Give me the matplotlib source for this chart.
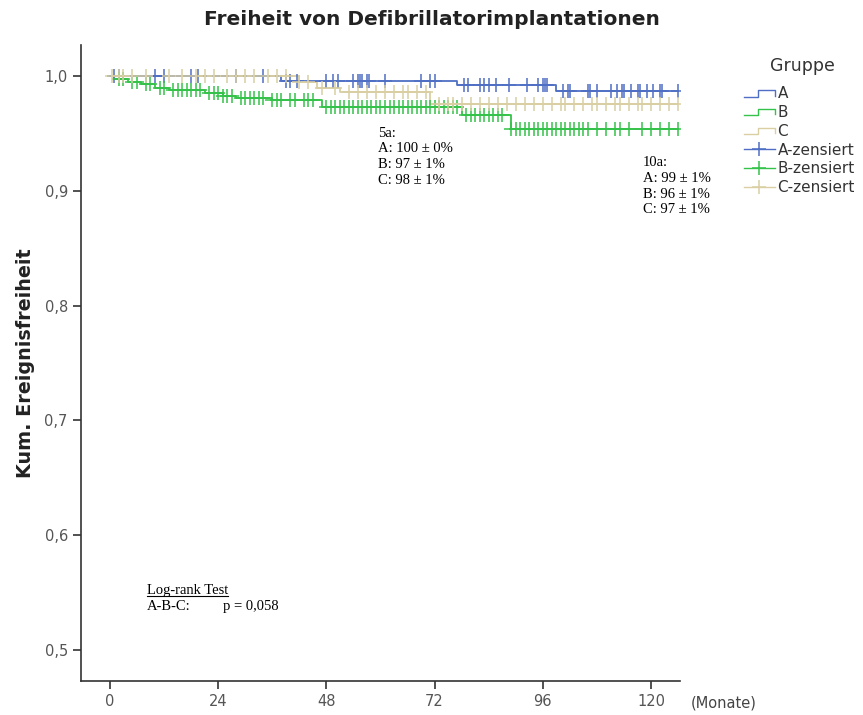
import numpy as np
import matplotlib
matplotlib.use('Agg')
import matplotlib.pyplot as plt
from matplotlib.lines import Line2D
from matplotlib.legend_handler import HandlerBase

# Kaplan-Meier steps (months, survival)
groups = ['A', 'B', 'C']
a_times = [0, 38, 77, 99]
a_surv = [1.0, 0.996, 0.992, 0.987]
b_times = [0, 1, 4, 7, 10, 13, 21, 25, 28, 36, 47, 78, 89]
b_surv = [1.0, 0.997, 0.995, 0.993, 0.990, 0.988, 0.985, 0.983, 0.981, 0.979, 0.973, 0.966, 0.954]
c_times = [0, 42, 46, 51, 71]
c_surv = [1.0, 0.995, 0.990, 0.986, 0.976]
end_time = 126

# censored observations (months)
a_cens = [1, 2, 10, 12, 18, 19.5, 28, 34, 39, 40, 41.5, 48, 49.5, 50.5, 54, 55, 55.5, 56, 57, 57.5,
          61, 69, 71, 72, 78.5, 79.5, 82, 83, 84, 85.5, 88.5, 92.5, 95, 96, 96.5, 97, 100.5, 101.5,
          102, 106, 106.5, 108, 111, 112.5, 113.5, 114, 115.5, 117, 117.5, 119, 120.5, 122, 122.5, 126]
b_cens = [2, 3, 5, 6, 8, 9, 11, 12, 14, 15, 16, 17, 18, 19, 20, 22, 23, 24, 25, 26, 27, 29, 30, 31,
          32, 33, 34, 36, 37, 38, 40, 41, 43, 44, 45, 48, 49, 50, 51, 52, 53, 54, 55, 56, 57, 58, 59,
          60, 61, 62, 63, 64, 65, 66, 67, 68, 69, 70, 71, 72, 73, 74, 75, 76, 77, 79, 80, 81, 82, 83,
          84, 85, 86, 87, 89, 90, 91, 92, 93, 94, 95, 96, 97, 98, 99, 100, 101, 102, 103, 104, 105,
          106, 108, 110, 112, 113, 115, 118, 120, 122, 124, 126]
c_cens = [0.5, 2, 3, 5, 8, 13, 16, 19, 21, 23, 26, 28, 30, 32, 35, 37, 39, 42, 44, 47, 50, 53, 55,
          57, 59, 61, 63, 65, 66, 68, 70, 73, 75, 76, 78, 80, 82, 84, 86, 88, 90, 92, 94, 96, 98,
          100, 101, 103, 105, 107, 108, 110, 112, 113, 115, 117, 118, 120, 122, 124, 126]

x_ticks = [0, 24, 48, 72, 96, 120]
y_ticks = [0.5, 0.6, 0.7, 0.8, 0.9, 1.0]

colors = {'A': '#4f6fc4', 'B': '#35c24a', 'C': '#d9cfa3'}


def surv_at(times, surv, t):
    idx = np.searchsorted(times, t, side='right') - 1
    return np.array(surv)[idx]


class StepHandler(HandlerBase):
    def create_artists(self, legend, orig_handle, xdescent, ydescent, width, height, fontsize, trans):
        xs = np.array([0, 0.45, 0.45, 1.0, 1.0]) * width - xdescent
        ys = np.array([0.15, 0.15, 0.75, 0.75, 0.25]) * height - ydescent
        ln = Line2D(xs, ys, color=orig_handle.get_color(), lw=1.0)
        ln.set_transform(trans)
        return [ln]


fig = plt.figure(figsize=(8.63, 7.15), dpi=100)
ax = fig.add_axes([0.0939, 0.0476, 0.694, 0.8894])

data = {'A': (a_times, a_surv, a_cens), 'B': (b_times, b_surv, b_cens), 'C': (c_times, c_surv, c_cens)}
step_handles = []
cens_handles = []
for g in ['C', 'A', 'B']:
    t, s, c = data[g]
    tt = list(t) + [end_time]
    ss = list(s) + [s[-1]]
    ax.step(tt, ss, where='post', color=colors[g], lw=1.3)
for g in groups:
    t, s, c = data[g]
    ax.plot(c, surv_at(t, s, c), ls='none', marker='+', ms=10, mew=1.1, color=colors[g])
for g in groups:
    step_handles.append(Line2D([], [], color=colors[g]))
    cens_handles.append(Line2D([], [], color=colors[g], marker='+', ms=10, mew=1.1, lw=1.0))

ax.set_xlim(-6.4, 126.4)
ax.set_ylim(0.473, 1.027)
ax.set_xticks(x_ticks)
ax.set_yticks(y_ticks)
ax.set_yticklabels([f'{v:.1f}'.replace('.', ',') for v in y_ticks])
for side in ['top', 'right']:
    ax.spines[side].set_visible(False)
for side in ['left', 'bottom']:
    ax.spines[side].set_color('#333333')
    ax.spines[side].set_linewidth(1.2)
ax.tick_params(colors='#333333', labelcolor='#555555', labelsize=10.5, length=6, width=1.2)

fig.text(0.5, 0.973, 'Freiheit von Defibrillatorimplantationen', ha='center', va='center',
         fontsize=14.5, fontweight='bold', color='#222222')
ax.set_ylabel('Kum. Ereignisfreiheit', fontsize=13.8, fontweight='bold', color='#222222', labelpad=7)
fig.text(0.80, 0.017, '(Monate)', ha='left', va='center', fontsize=10.5, color='#444444')

serif = 'Liberation Serif'
ax.text(59.4, 0.956, '5a:\nA: 100 ± 0%\nB: 97 ± 1%\nC: 98 ± 1%', ha='left', va='top',
        family=serif, fontsize=10.5, linespacing=1.27)
ax.text(118.2, 0.930, '10a:\nA: 99 ± 1%\nB: 96 ± 1%\nC: 97 ± 1%', ha='left', va='top',
        family=serif, fontsize=10.5, linespacing=1.27, clip_on=False)
lr = ax.text(8.2, 0.5575, 'Log-rank Test', ha='left', va='top', family=serif, fontsize=10.5)
ax.text(8.2, 0.5435, 'A-B-C:', ha='left', va='top', family=serif, fontsize=10.5)
ax.text(25.0, 0.5435, 'p = 0,058', ha='left', va='top', family=serif, fontsize=10.5)

fig.text(802 / 863, 1 - 66 / 715, 'Gruppe', ha='center', va='center', fontsize=12.5, color='#333333')
leg = fig.legend(step_handles + cens_handles,
                 groups + [g + '-zensiert' for g in groups],
                 handler_map={h: StepHandler() for h in step_handles},
                 loc='upper left', bbox_to_anchor=(0.855, 0.888), frameon=False,
                 fontsize=11, handlelength=2.0, handletextpad=0.2, labelspacing=0.25,
                 borderaxespad=0, borderpad=0.4)
for txt in leg.get_texts():
    txt.set_color('#333333')

# underline for Log-rank Test
fig.canvas.draw()
bb = lr.get_window_extent().transformed(fig.transFigure.inverted())
fig.add_artist(Line2D([bb.x0, bb.x1], [bb.y0 + 0.002, bb.y0 + 0.002], color='black', lw=0.8,
                      transform=fig.transFigure))

fig.savefig('out.png', dpi=100)
